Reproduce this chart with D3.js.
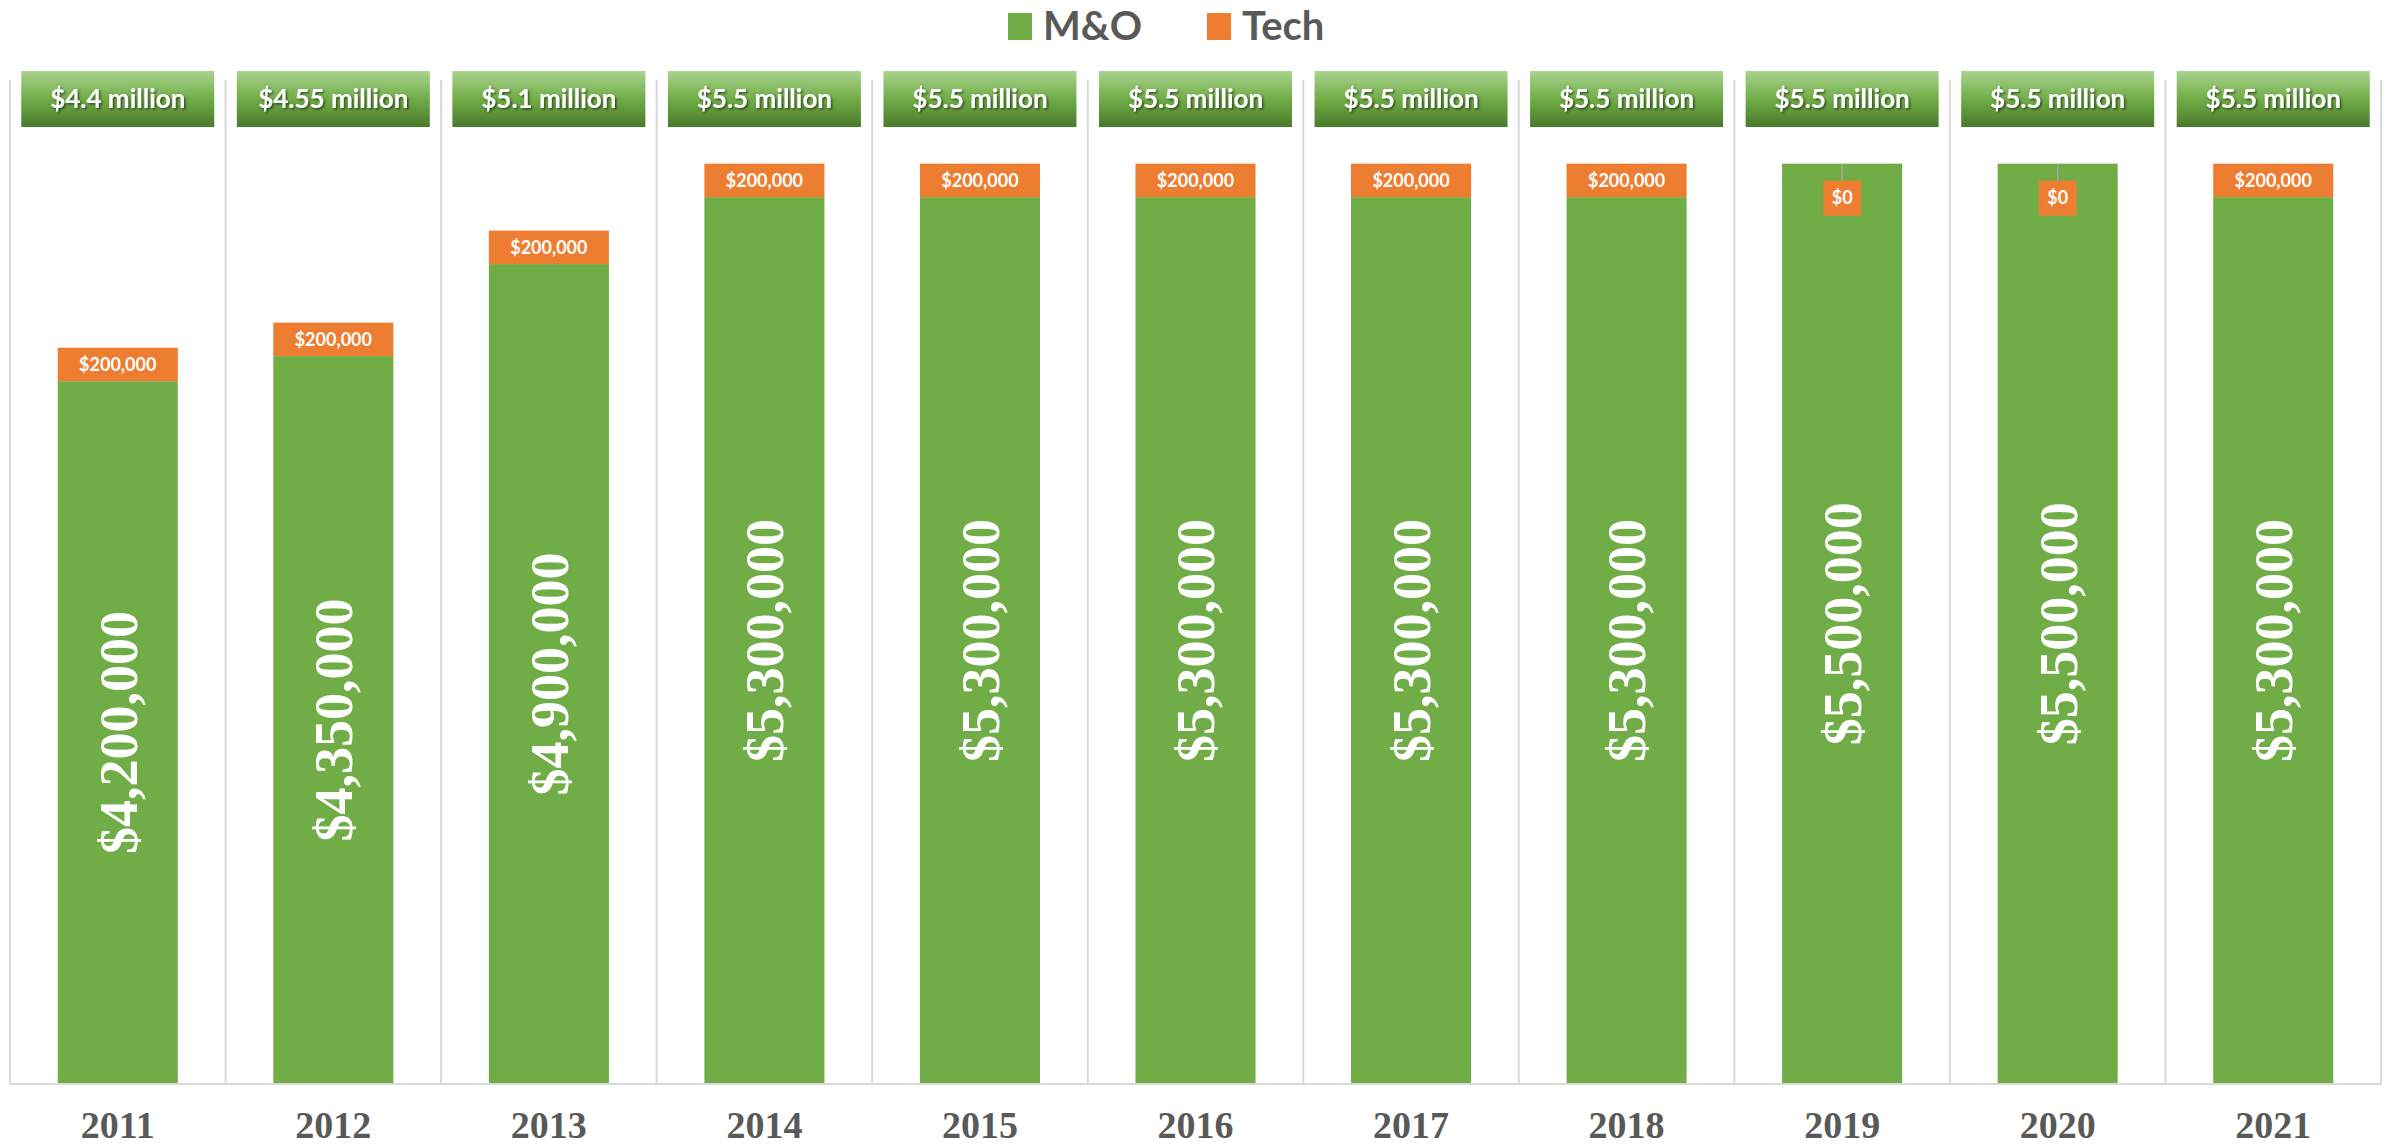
<!DOCTYPE html>
<html>
<head>
<meta charset="utf-8">
<script src="https://cdn.jsdelivr.net/npm/d3@7"></script>
<style>
  body { margin: 0; background: #fff; }
  svg { display: block; }
</style>
</head>
<body>
<script>
// chart data
const years = ["2011", "2012", "2013", "2014", "2015", "2016", "2017", "2018", "2019", "2020", "2021"];
const moValues = [4200000, 4350000, 4900000, 5300000, 5300000, 5300000, 5300000, 5300000, 5500000, 5500000, 5300000];
const techValues = [200000, 200000, 200000, 200000, 200000, 200000, 200000, 200000, 0, 0, 200000];
const seriesNames = ["M&O", "Tech"];
const seriesColors = ["#70ad47", "#ed7d31"];

const width = 2392, height = 1147;
const margin = {left: 10, right: 11, top: 80, bottom: 63};

const dataset = years.map((y, i) => ({year: y, mo: moValues[i], tech: techValues[i]}));

const svg = d3.select("body").append("svg")
    .attr("width", width).attr("height", height);

const defs = svg.append("defs");
const grad = defs.append("linearGradient").attr("id", "boxGrad")
    .attr("x1", 0).attr("y1", 0).attr("x2", 0).attr("y2", 1);
grad.append("stop").attr("offset", "0%").attr("stop-color", "#a9d38f");
grad.append("stop").attr("offset", "50%").attr("stop-color", "#70ad47");
grad.append("stop").attr("offset", "100%").attr("stop-color", "#4a7a2b");
const shadow = defs.append("filter").attr("id", "txtShadow")
    .attr("x", "-10%").attr("y", "-20%").attr("width", "130%").attr("height", "150%");
shadow.append("feDropShadow").attr("dx", 1.5).attr("dy", 1.5).attr("stdDeviation", 1)
    .attr("flood-color", "#000").attr("flood-opacity", 0.55);

const x = d3.scaleBand()
    .domain(years)
    .range([margin.left, width - margin.right])
    .paddingInner(0.443)
    .paddingOuter(0.2215);

const y = d3.scaleLinear()
    .domain([0, 6000000])
    .range([height - margin.bottom, margin.top]);

const half = (x.step() - x.bandwidth()) / 2;

// vertical grid lines between categories
const edges = years.map(d => x(d) - half).concat([x(years[years.length - 1]) + x.bandwidth() + half]);
svg.append("g").selectAll("line")
    .data(edges)
    .enter().append("line")
    .attr("x1", d => d).attr("x2", d => d)
    .attr("y1", y(6000000)).attr("y2", y(0))
    .attr("stroke", "#d9d9d9").attr("stroke-width", 2);

// stacked bars
svg.append("g").selectAll("rect")
    .data(dataset)
    .enter().append("rect")
    .attr("x", d => x(d.year))
    .attr("width", x.bandwidth())
    .attr("y", d => y(d.mo))
    .attr("height", d => y(0) - y(d.mo))
    .attr("fill", seriesColors[0]);

svg.append("g").selectAll("rect")
    .data(dataset)
    .enter().append("rect")
    .attr("x", d => x(d.year))
    .attr("width", x.bandwidth())
    .attr("y", d => y(d.mo + d.tech))
    .attr("height", d => y(d.mo) - y(d.mo + d.tech))
    .attr("fill", seriesColors[1]);

// x axis baseline
svg.append("line")
    .attr("x1", edges[0]).attr("x2", edges[edges.length - 1])
    .attr("y1", y(0)).attr("y2", y(0))
    .attr("stroke", "#d9d9d9").attr("stroke-width", 2);

// year labels
svg.append("g").selectAll("text")
    .data(years)
    .enter().append("text")
    .attr("x", d => x(d) + x.bandwidth() / 2)
    .attr("y", 1138)
    .attr("text-anchor", "middle")
    .attr("font-family", "'Liberation Serif', 'Times New Roman', serif")
    .attr("font-weight", "bold")
    .attr("font-size", "38px")
    .attr("fill", "#595959")
    .text(d => d);

// M&O vertical labels
const fmtMoney = d3.format("$,");
svg.append("g").selectAll("text")
    .data(dataset)
    .enter().append("text")
    .attr("transform", d => {
        const cx = x(d.year) + x.bandwidth() / 2;
        const cy = (y(0) + y(d.mo)) / 2;
        return "translate(" + cx + "," + cy + ") rotate(-90)";
    })
    .attr("text-anchor", "middle")
    .attr("dy", "0.35em")
    .attr("font-family", "'Liberation Serif', 'Times New Roman', serif")
    .attr("font-weight", "bold")
    .attr("font-size", "54px")
    .attr("fill", "#fff")
    .text(d => fmtMoney(d.mo));

// Tech labels
const techG = svg.append("g").selectAll("g")
    .data(dataset)
    .enter().append("g");
techG.filter(d => d.tech === 0).append("line")
    .attr("x1", d => x(d.year) + x.bandwidth() / 2)
    .attr("x2", d => x(d.year) + x.bandwidth() / 2)
    .attr("y1", d => y(d.mo))
    .attr("y2", d => y(d.mo) + 17)
    .attr("stroke", "#a6a6a6").attr("stroke-width", 1.5);
techG.filter(d => d.tech === 0).append("rect")
    .attr("x", d => x(d.year) + x.bandwidth() / 2 - 19)
    .attr("y", d => y(d.mo) + 17)
    .attr("width", 38).attr("height", 35)
    .attr("fill", seriesColors[1]);
techG.append("text")
    .attr("x", d => x(d.year) + x.bandwidth() / 2)
    .attr("y", d => d.tech === 0 ? y(d.mo) + 34.5 : (y(d.mo) + y(d.mo + d.tech)) / 2)
    .attr("dy", "0.35em")
    .attr("text-anchor", "middle")
    .attr("font-family", "Lato, 'Open Sans', sans-serif")
    .attr("font-weight", "bold")
    .attr("font-size", "18px")
    .attr("fill", "#fff")
    .text(d => fmtMoney(d.tech));

// total boxes on top
const boxW = 193, boxH = 56, boxY = 71;
const totals = svg.append("g").selectAll("g")
    .data(dataset)
    .enter().append("g");
totals.append("rect")
    .attr("x", d => x(d.year) + x.bandwidth() / 2 - boxW / 2)
    .attr("y", boxY)
    .attr("width", boxW).attr("height", boxH)
    .attr("fill", "url(#boxGrad)");
totals.append("text")
    .attr("x", d => x(d.year) + x.bandwidth() / 2)
    .attr("y", boxY + boxH / 2)
    .attr("dy", "0.36em")
    .attr("text-anchor", "middle")
    .attr("font-family", "Lato, 'Open Sans', sans-serif")
    .attr("font-weight", "bold")
    .attr("font-size", "26px")
    .attr("fill", "#fff")
    .attr("filter", "url(#txtShadow)")
    .text(d => "$" + d3.format("~")((d.mo + d.tech) / 1e6) + " million");

// legend
const legendX = [1008, 1207];
const legend = svg.append("g").selectAll("g")
    .data(seriesNames)
    .enter().append("g")
    .attr("transform", (d, i) => "translate(" + legendX[i] + ",0)");
legend.append("rect")
    .attr("x", 0).attr("y", 13)
    .attr("width", 24).attr("height", 27)
    .attr("fill", (d, i) => seriesColors[i]);
legend.append("text")
    .attr("x", 35).attr("y", 40)
    .attr("font-family", "Lato, 'Open Sans', sans-serif")
    .attr("font-weight", "bold")
    .attr("font-size", "40px")
    .attr("fill", "#595959")
    .text(d => d);
</script>
</body>
</html>
